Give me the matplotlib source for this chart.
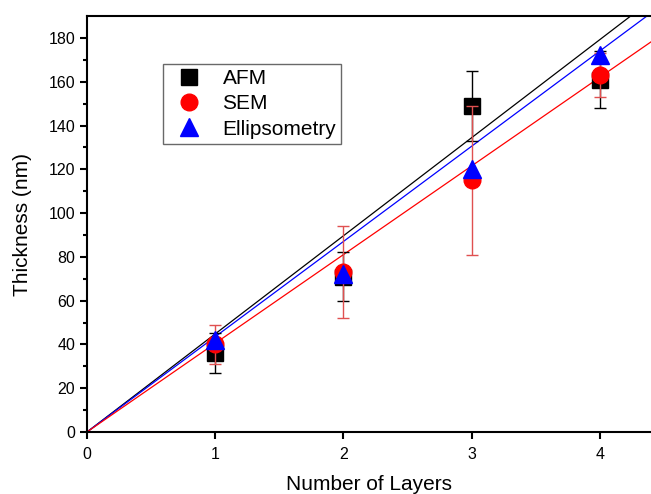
import matplotlib.pyplot as plt
from matplotlib.lines import Line2D
import numpy as np

plt.rcParams['font.family'] = ['Liberation Sans', 'DejaVu Sans']

layers = [1, 2, 3, 4]

afm = [36, 71, 149, 161]
afm_err = [9, 11, 16, 13]
sem = [40, 73, 115, 163]
sem_err = [9, 21, 34, 10]
ellip = [42, 72, 120, 172]

# slopes of the linear fits through the origin
slope_afm = 44.8
slope_sem = 40.5
slope_ellip = 43.5

fig = plt.figure(figsize=(6.51, 4.94), dpi=100)
ax = fig.add_axes([0.1336, 0.1255, 0.8664, 0.842])

xfit = np.linspace(0, 4.4, 50)
ax.plot(xfit, slope_afm * xfit, color='black', lw=0.9, zorder=1)
ax.plot(xfit, slope_ellip * xfit, color='blue', lw=0.9, zorder=1)
ax.plot(xfit, slope_sem * xfit, color='red', lw=0.9, zorder=1)

ax.errorbar(layers, afm, yerr=afm_err, fmt='s', color='black', ms=11,
            ecolor='black', elinewidth=1, capsize=4, capthick=1, zorder=3)
ax.errorbar(layers, sem, yerr=sem_err, fmt='o', color='red', ms=12,
            ecolor='#e05050', elinewidth=1, capsize=4, capthick=1, zorder=4)
ax.plot(layers, ellip, '^', color='blue', ms=13, zorder=5)

ax.set_xlim(0, 4.4)
ax.set_ylim(0, 190)
ax.set_xticks([0, 1, 2, 3, 4])
ax.set_yticks(range(0, 181, 20))
ax.set_yticks(range(10, 190, 20), minor=True)

ax.spines['right'].set_visible(False)
for s in ['left', 'bottom', 'top']:
    ax.spines[s].set_linewidth(1.5)
ax.tick_params(direction='out', length=5, width=1.5, labelsize=11.5)
ax.tick_params(which='minor', direction='out', length=3, width=1.5)
ax.tick_params(axis='x', pad=6)

ax.set_xlabel('Number of Layers', fontsize=15, labelpad=9)
ax.set_ylabel('Thickness (nm)', fontsize=15, labelpad=12)

handles = [
    Line2D([], [], ls='none', marker='s', color='black', ms=11),
    Line2D([], [], ls='none', marker='o', color='red', ms=12),
    Line2D([], [], ls='none', marker='^', color='blue', ms=13),
]
leg = ax.legend(handles, ['AFM', 'SEM', 'Ellipsometry'], loc='upper left',
                bbox_to_anchor=(0.135, 0.885), borderaxespad=0, fontsize=15,
                frameon=True, fancybox=False, edgecolor='#444444',
                handletextpad=0.6, borderpad=0.25, labelspacing=0.3,
                handlelength=2.0)
leg.get_frame().set_linewidth(1)

fig.savefig('out.png', dpi=100)
